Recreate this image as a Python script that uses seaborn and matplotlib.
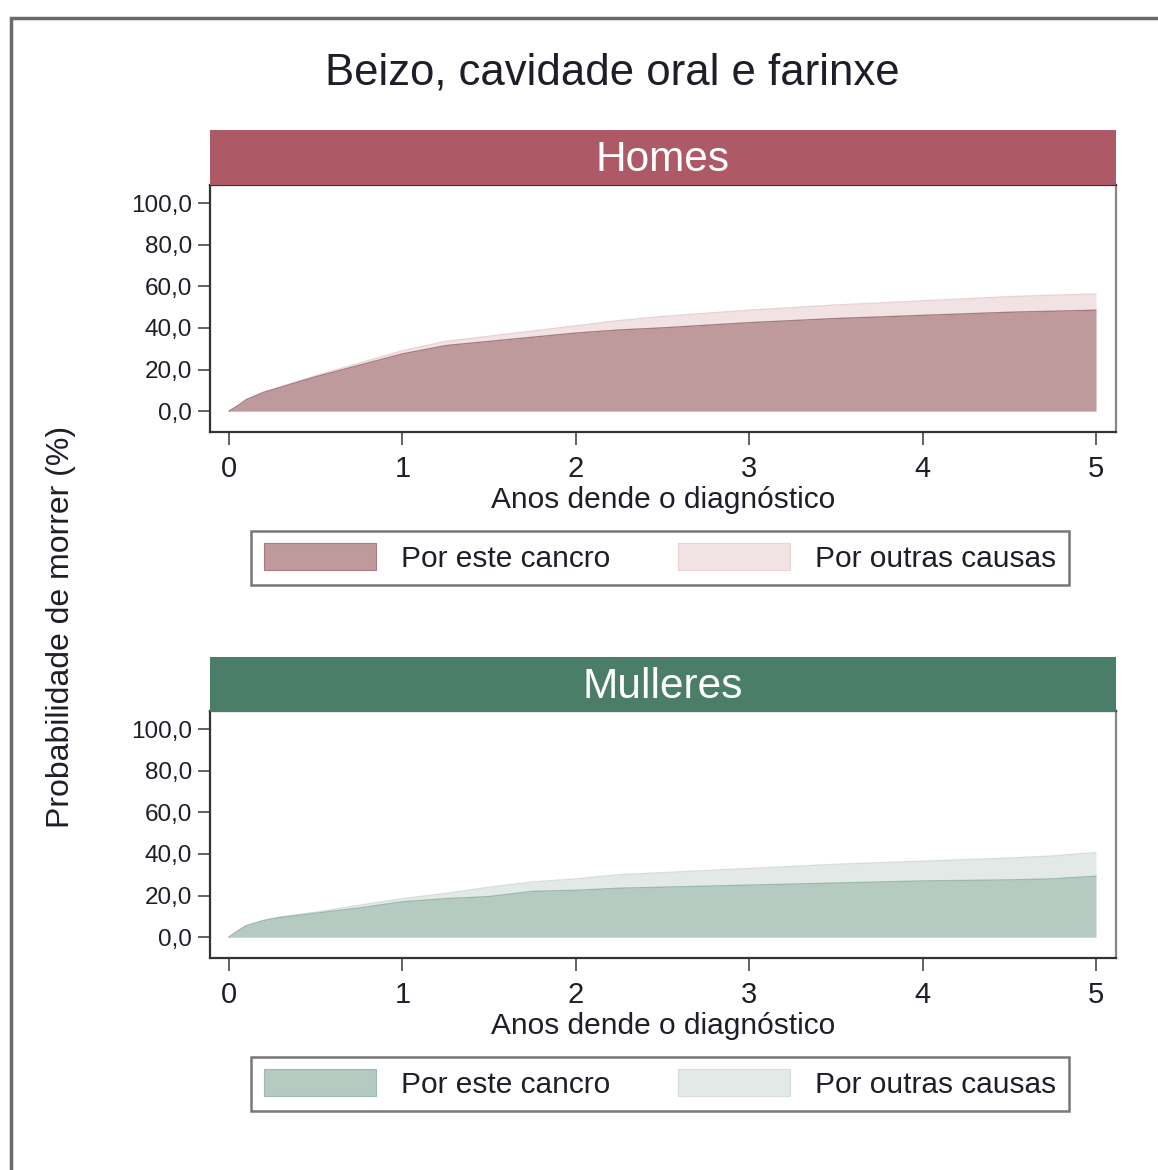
import numpy as np
import pandas as pd
import seaborn as sns
import matplotlib.pyplot as plt
from matplotlib.patches import Rectangle, Patch

# -------------------
# Data
# -------------------
anos = [0, 0.05, 0.1, 0.2, 0.3, 0.5, 0.75, 1.0, 1.25, 1.5, 1.75, 2.0,
        2.25, 2.5, 3.0, 3.5, 4.0, 4.5, 4.75, 5.0]

homes_cancro = [0, 2.5, 5.5, 9.0, 11.5, 16.5, 22.0, 27.5, 31.5, 33.5, 35.5, 37.5,
                39.0, 40.0, 42.5, 44.5, 46.0, 47.5, 48.0, 48.5]
homes_outras = [0, 0, 0.1, 0.2, 0.3, 0.5, 1.0, 1.5, 2.0, 2.5, 3.0, 3.5,
                4.5, 5.5, 6.0, 6.5, 7.0, 7.5, 7.7, 7.8]

mulleres_cancro = [0, 3.0, 5.5, 8.0, 9.5, 11.5, 14.0, 17.0, 18.5, 19.5, 22.0, 22.5,
                   23.5, 24.0, 25.0, 26.0, 27.0, 27.5, 28.0, 29.3]
mulleres_outras = [0, 0, 0, 0.1, 0.3, 0.5, 1.3, 1.5, 2.5, 4.5, 4.5, 5.5,
                   6.5, 7.0, 8.0, 9.0, 9.5, 10.5, 11.0, 11.4]

paneis = ["Homes", "Mulleres"]
series = ["Por este cancro", "Por outras causas"]
yticks = [0, 20, 40, 60, 80, 100]
xticks = [0, 1, 2, 3, 4, 5]

df = pd.DataFrame({
    "anos": anos * 2,
    "sexo": ["Homes"] * len(anos) + ["Mulleres"] * len(anos),
    "cancro": homes_cancro + mulleres_cancro,
    "outras": homes_outras + mulleres_outras,
})
df["total"] = df["cancro"] + df["outras"]

cores = {
    "Homes": {"strip": "#AE5A66", "cancro": "#BE9A9D", "outras": "#F1E2E3",
              "edge1": "#A97A7F", "edge2": "#E8D2D4"},
    "Mulleres": {"strip": "#4A7E68", "cancro": "#B5CBC1", "outras": "#E2E9E6",
                 "edge1": "#9DB8AC", "edge2": "#D5DFDA"},
}

sns.set_theme(style="white")
plt.rcParams["font.family"] = ["Liberation Sans", "DejaVu Sans"]
txt = "#1e1e28"

fig = plt.figure(figsize=(11.58, 11.70), dpi=100)

# outer frame (cut off at right/bottom like the reference)
fig.patches.append(Rectangle((0.0095, -0.1), 1.2, 1.0846, transform=fig.transFigure,
                             fill=False, lw=2.5, ec="#6a6a6a", zorder=0))

fig.text(0.529, 0.938, "Beizo, cavidade oral e farinxe", ha="center", va="center",
         fontsize=31.5, color=txt)
fig.text(0.053, 0.464, "Probabilidade de morrer (%)", rotation=90, ha="center",
         va="center", fontsize=23, color=txt)

layout = {
    "Homes": {"ax": 0.6308, "strip": 0.8419, "leg": 0.5231},
    "Mulleres": {"ax": 0.1812, "strip": 0.3915, "leg": 0.0735},
}

for p in paneis:
    c = cores[p]
    d = df[df["sexo"] == p]
    ax = fig.add_axes([0.1813, layout[p]["ax"], 0.7824, 0.2108])
    ax.fill_between(d["anos"], d["cancro"], d["total"], color=c["outras"], lw=0)
    ax.fill_between(d["anos"], 0, d["cancro"], color=c["cancro"], lw=0)
    sns.lineplot(data=d, x="anos", y="total", ax=ax, color=c["edge2"], lw=1)
    sns.lineplot(data=d, x="anos", y="cancro", ax=ax, color=c["edge1"], lw=1)

    ax.set_xlim(-0.11, 5.115)
    ax.set_ylim(-10, 108.5)
    ax.set_yticks(yticks)
    ax.set_yticklabels([f"{v:.1f}".replace(".", ",") for v in yticks])
    ax.set_xticks(xticks)
    ax.tick_params(axis="y", left=True, length=9, width=1.3, color="#555555",
                   labelsize=17.5, pad=4, labelcolor=txt)
    ax.tick_params(axis="x", bottom=True, length=9, width=1.3, color="#555555",
                   labelsize=21, pad=7.5, labelcolor=txt)
    ax.set_xlabel("Anos dende o diagnóstico", fontsize=21.5, color=txt, labelpad=2.5)
    ax.set_ylabel("")
    for s in ax.spines.values():
        s.set_color("#333333")
        s.set_linewidth(1.6)
    ax.spines["right"].set_color("#888888")

    sax = fig.add_axes([0.1813, layout[p]["strip"], 0.7824, 0.047])
    sax.set_facecolor(c["strip"])
    sax.set_xticks([])
    sax.set_yticks([])
    for s in sax.spines.values():
        s.set_visible(False)
    sax.text(0.5, 0.46, p, ha="center", va="center", fontsize=30.5, color="white",
             transform=sax.transAxes)

    handles = [Patch(facecolor=c["cancro"], edgecolor=c["edge1"], lw=0.8),
               Patch(facecolor=c["outras"], edgecolor=c["edge2"], lw=0.8)]
    leg = ax.legend(handles, series, loc="center", ncol=2,
                    bbox_to_anchor=(0.5700, layout[p]["leg"]),
                    bbox_transform=fig.transFigure, fontsize=21.5, frameon=True,
                    fancybox=False, handlelength=3.75, handleheight=1.0,
                    handletextpad=0.85, columnspacing=2.25, borderpad=0.42,
                    borderaxespad=0)
    leg.get_frame().set_edgecolor("#555555")
    leg.get_frame().set_linewidth(1.8)
    for t in leg.get_texts():
        t.set_color(txt)

plt.savefig("out.png", dpi=100)
plt.close()
